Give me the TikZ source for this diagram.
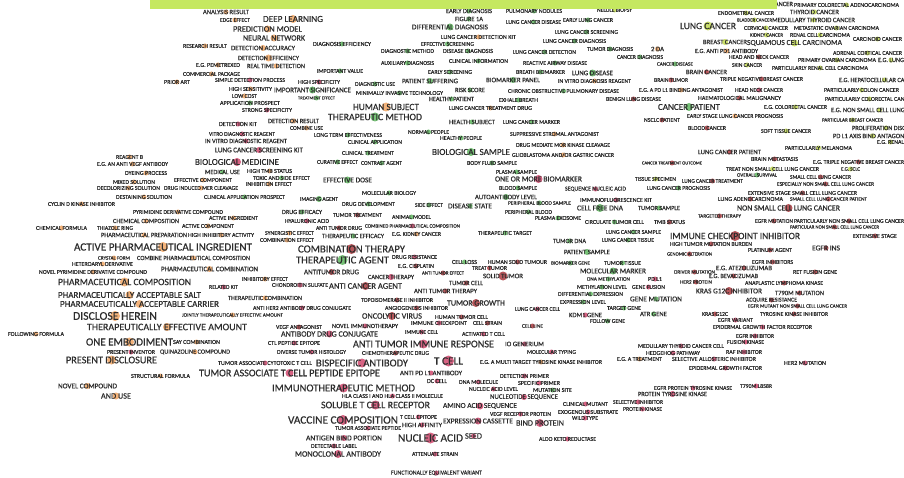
\documentclass[tikz,border=0pt]{standalone}
\usepackage{fontspec}
\setmainfont{Carlito}
\newfontfamily\kwfont{Carlito}[FakeBold=0.5]
\usepackage{graphicx}
\definecolor{co}{RGB}{240,160,90}
\definecolor{cg}{RGB}{85,178,85}
\definecolor{cr}{RGB}{205,60,100}
\definecolor{cd}{RGB}{165,45,50}
\definecolor{cy}{RGB}{190,215,70}
\definecolor{bar}{RGB}{197,232,96}
\definecolor{txt}{RGB}{45,45,45}
\newcounter{kwn}
\tikzset{
  kwdot/.style={circle,inner sep=0pt,draw=none,fill opacity=.8},
  kwlbl/.style={inner sep=0pt,text=txt,font=\kwfont\fontsize{10}{10}\selectfont}
}
% #1 left x, #2 right x, #3 y, #4 colour, #5 dot size, #6 text
\newcommand\kw[6]{\stepcounter{kwn}%
\node[kwdot,fill=#4,minimum size=#5pt] (d\arabic{kwn}) at ({(#1+#2)/2},#3) {};%
\node[kwlbl] (t\arabic{kwn}) at ({(#1+#2)/2},#3) {\resizebox{\dimexpr #2pt-#1pt\relax}{!}{#6}};}
\begin{document}
\begin{tikzpicture}[x=1pt,y=-1pt]
\clip (0,0) rectangle (904,478);
\fill[white] (0,0) rectangle (904,478);
% orange top-left
\kw{203}{249}{12}{co}{5}{ANALYSIS RESULT}
\kw{220}{250}{20}{co}{5}{EDGE EFFECT}
\kw{183}{227}{46}{co}{5}{RESEARCH RESULT}
\kw{196}{240}{65}{co}{5}{E.G. PEMETREXED}
\kw{183}{240}{74}{co}{5}{COMMERCIAL PACKAGE}
\kw{164}{190}{82}{co}{5}{PRIOR ART}
\kw{215}{285}{80}{cr}{5}{SIMPLE DETECTION PROCESS}
\kw{229}{272}{89}{co}{5}{HIGH SENSITIVITY}
\kw{232}{257}{96}{co}{5}{LOW COST}
\kw{220}{280}{103}{cg}{5}{APPLICATION PROSPECT}
\kw{242}{292}{110}{cr}{5}{STRONG SPECIFICITY}
\kw{219}{257}{124}{cr}{5}{DETECTION KIT}
\kw{209}{275}{134}{cr}{5}{VITRO DIAGNOSTIC REAGENT}
\kw{205}{287}{141}{cr}{5}{IN VITRO DIAGNOSTIC REAGENT}
\kw{215}{303}{150}{cr}{6}{LUNG CANCER SCREENING KIT}
\kw{116}{143}{157}{co}{5}{REAGENT B}
\kw{263}{323}{19}{co}{8}{DEEP LEARNING}
\kw{233}{302}{29}{co}{7}{PREDICTION MODEL}
\kw{243}{305}{38}{co}{7}{NEURAL NETWORK}
\kw{231}{295}{48}{co}{6}{DETECTION ACCURACY}
\kw{238}{299}{58}{co}{7}{DETECTION EFFICIENCY}
\kw{247}{305}{66}{co}{5}{REAL TIME DETECTION}
% green diagnosis
\kw{313}{371}{44}{cg}{5}{DIAGNOSIS EFFICIENCY}
\kw{317}{363}{71}{cg}{5}{IMPORTANT VALUE}
\kw{298}{340}{82}{cr}{5}{HIGH SPECIFICITY}
\kw{274}{351}{90}{cg}{7}{IMPORTANT SIGNIFICANCE}
\kw{298}{335}{98}{cg}{5}{TREATMENT EFFECT}
\kw{355}{395}{84}{cg}{5}{DIAGNOSTIC USE}
\kw{356}{443}{93}{cg}{5}{MINIMALLY INVASIVE TECHNOLOGY}
\kw{353}{419}{107}{co}{9}{HUMAN SUBJECT}
\kw{328}{422}{117}{cg}{9}{THERAPEUTIC METHOD}
\kw{268}{319}{121}{co}{5}{DETECTION RESULT}
\kw{290}{323}{128}{co}{5}{COMBINE USE}
\kw{314}{382}{135}{cg}{5}{LONG TERM EFFECTIVENESS}
\kw{348}{402}{142}{cg}{5}{CLINICAL APPLICATION}
\kw{342}{394}{153}{cg}{5}{CLINICAL TREATMENT}
\kw{408}{449}{132}{cg}{5}{NORMAL PEOPLE}
\kw{402}{458}{81}{cg}{6}{PATIENT SUFFERING}
\kw{412}{488}{27}{cg}{7}{DIFFERENTIAL DIAGNOSIS}
\kw{421}{474}{44}{cg}{5}{EFFECTIVE SCREENING}
\kw{381}{434}{51}{cg}{5}{DIAGNOSTIC METHOD}
\kw{443}{493}{51}{cg}{5}{DISEASE DIAGNOSIS}
\kw{381}{434}{63}{cg}{5}{AUXILIARY DIAGNOSIS}
\kw{449}{508}{61}{cg}{5}{CLINICAL INFORMATION}
\kw{428}{472}{72}{cg}{5}{EARLY SCREENING}
\kw{429}{474}{99}{cg}{5}{HEALTHY PATIENT}
\kw{455}{485}{90}{cg}{5}{RISK SCORE}
\kw{449}{532}{108}{co}{5}{LUNG CANCER TREATMENT DRUG}
\kw{449}{495}{122}{cg}{5}{HEALTH SUBJECT}
\kw{440}{482}{138}{cg}{5}{HEALTHY PEOPLE}
\kw{432}{510}{152}{cg}{8}{BIOLOGICAL SAMPLE}
\kw{446}{492}{11}{cg}{5}{EARLY DIAGNOSIS}
\kw{506}{562}{11}{cg}{5}{PULMONARY NODULES}
\kw{597}{632}{10}{cy}{5}{NEEDLE BIOPSY}
\kw{455}{483}{19}{cg}{5}{FIGURE 1A}
\kw{506}{561}{22}{cg}{5}{LUNG CANCER DISEASE}
\kw{563}{613}{20}{cg}{5}{EARLY LUNG CANCER}
\kw{441}{516}{37}{co}{5}{LUNG CANCER DETECTION KIT}
\kw{555}{618}{32}{cg}{5}{LUNG CANCER SCREENING}
\kw{543}{606}{41}{cg}{5}{LUNG CANCER DIAGNOSIS}
\kw{513}{576}{52}{cg}{5}{LUNG CANCER DETECTION}
\kw{587}{633}{49}{cg}{5}{TUMOR DIAGNOSIS}
\kw{651}{664}{49}{co}{5}{2 DA}
\kw{617}{663}{57}{cg}{5}{CANCER DIAGNOSIS}
\kw{523}{587}{63}{cg}{5}{REACTIVE AIRWAY DISEASE}
\kw{516}{565}{72}{cg}{5}{BREATH BIOMARKER}
\kw{572}{613}{73}{cg}{7}{LUNG DISEASE}
\kw{486}{540}{80}{cg}{6}{BIOMARKER PANEL}
\kw{558}{631}{81}{co}{5}{IN VITRO DIAGNOSIS REAGENT}
\kw{508}{619}{91}{cg}{5}{CHRONIC OBSTRUCTIVE PULMONARY DISEASE}
\kw{499}{538}{100}{cg}{5}{EXHALE BREATH}
\kw{606}{661}{99}{cd}{5}{BENIGN LUNG DISEASE}
\kw{503}{560}{122}{cg}{5}{LUNG CANCER MARKER}
\kw{510}{599}{134}{co}{5}{SUPPRESSIVE STROMAL ANTAGONIST}
\kw{516}{610}{145}{co}{5}{DRUG MEDIATE MOR KINASE CLEAVAGE}
\kw{512}{614}{155}{co}{5}{GLIOBLASTOMA AND/OR GASTRIC CANCER}
\kw{654}{688}{80}{cd}{5}{BRAIN TUMOR}
\kw{639}{723}{90}{co}{5}{E.G. A PD L1 BINDING ANTAGONIST}
\kw{644}{680}{120}{cd}{5}{NSCLC PATIENT}
\kw{658}{720}{107}{cg}{8}{CANCER PATIENT}
\kw{657}{693}{64}{cg}{5}{CANCER DISEASE}
% cancers top right
\kw{794}{899}{5}{cy}{5}{PRIMARY COLORECTAL ADENOCARCINOMA}
\kw{755}{793}{4}{cy}{5}{LIVER CANCER}
\kw{790}{839}{12}{cy}{5}{THYROID CANCER}
\kw{718}{774}{13}{cy}{5}{ENDOMETRIAL CANCER}
\kw{680}{736}{26}{cy}{9}{LUNG CANCER}
\kw{737}{772}{20}{cy}{5}{BLADDER CANCER}
\kw{772}{855}{20}{cy}{5}{MEDULLARY THYROID CANCER}
\kw{744}{788}{28}{cy}{5}{CERVICAL CANCER}
\kw{794}{879}{28}{cy}{5}{METASTATIC OVARIAN CARCINOMA}
\kw{750}{783}{35}{cy}{5}{KIDNEY CANCER}
\kw{790}{850}{35}{cy}{5}{RENAL CELL CARCINOMA}
\kw{853}{902}{39}{cy}{5}{CARCINOID CANCER}
\kw{703}{747}{42}{cy}{6}{BREAST CANCER}
\kw{747}{842}{43}{cy}{7}{SQUAMOUS CELL CARCINOMA}
\kw{695}{758}{51}{co}{5}{E.G. ANTI PD1 ANTIBODY}
\kw{729}{789}{57}{cd}{5}{HEAD AND NECK CANCER}
\kw{833}{902}{53}{cy}{5}{ADRENAL CORTICAL CANCER}
\kw{732}{762}{65}{cy}{5}{SKIN CANCER}
\kw{798}{876}{60}{cy}{5}{PRIMARY OVARIAN CARCINOMA}
\kw{878}{904}{60}{cy}{5}{E.G. LUNG}
\kw{772}{868}{68}{cy}{5}{PARTICULARLY RENAL CELL CARCINOMA}
\kw{686}{727}{72}{cd}{5}{BRAIN CANCER}
\kw{720}{803}{79}{cd}{5}{TRIPLE NEGATIVE BREAST CANCER}
\kw{839}{930}{80}{cy}{5}{E.G. HEPATOCELLULAR CARCINOMA}
\kw{735}{783}{90}{cr}{5}{HEAD NECK CANCER}
\kw{824}{899}{90}{cy}{5}{PARTICULARLY COLON CANCER}
\kw{698}{781}{98}{cd}{5}{HAEMATOLOGICAL MALIGNANCY}
\kw{825}{914}{99}{cy}{5}{PARTICULARLY COLORECTAL CANCER}
\kw{764}{827}{107}{cy}{5}{E.G. COLORECTAL CANCER}
\kw{831}{928}{110}{cy}{5}{E.G. NON SMALL CELL LUNG CANCER}
\kw{687}{783}{116}{co}{5}{EARLY STAGE LUNG CANCER PROGNOSIS}
\kw{822}{883}{120}{cy}{5}{PARTICULAR BREAST CANCER}
\kw{688}{726}{128}{cd}{5}{BLOOD CANCER}
\kw{761}{811}{131}{cy}{5}{SOFT TISSUE CANCER}
\kw{852}{920}{128}{cy}{5}{PROLIFERATION DISORDER}
\kw{833}{912}{136}{cy}{5}{PD L1 AXIS BIND ANTAGONIST}
\kw{877}{904}{142}{cy}{5}{E.G. RENAL}
\kw{785}{852}{148}{cy}{5}{PARTICULARLY MELANOMA}
\kw{698}{761}{152}{cd}{5}{LUNG CANCER PATIENT}
\kw{751}{798}{159}{cd}{5}{BRAIN METASTASIS}
% orange left cluster
\kw{97}{168}{164}{co}{5}{E.G. AN ANTI VEGF ANTIBODY}
\kw{125}{167}{173}{co}{5}{DYEING PROCESS}
\kw{113}{155}{182}{co}{5}{MIXED SOLUTION}
\kw{97}{160}{188}{co}{5}{DECOLORIZING SOLUTION}
\kw{116}{172}{197}{co}{5}{DESTAINING SOLUTION}
\kw{48}{115}{204}{co}{5}{CYCLIN D KINASE INHIBITOR}
\kw{133}{223}{212}{co}{5}{PYRIMIDINE DERIVATIVE COMPOUND}
\kw{113}{179}{221}{co}{5}{CHEMICAL COMPOSITION}
\kw{36}{87}{228}{co}{5}{CHEMICAL FORMULA}
\kw{97}{133}{228}{co}{5}{THIAZOLE RING}
\kw{182}{234}{226}{co}{5}{ACTIVE COMPONENT}
\kw{209}{258}{218}{co}{5}{ACTIVE INGREDIENT}
\kw{101}{187}{235}{co}{5}{PHARMACEUTICAL PREPARATION}
\kw{188}{254}{235}{co}{5}{HIGH INHIBITORY ACTIVITY}
\kw{74}{252}{247}{co}{10}{ACTIVE PHARMACEUTICAL INGREDIENT}
\kw{98}{130}{258}{co}{5}{CRYSTAL FORM}
\kw{137}{250}{258}{co}{5}{COMBINE PHARMACEUTICAL COMPOSITION}
\kw{72}{133}{264}{co}{5}{HETEROARYL DERIVATIVE}
\kw{39}{147}{272}{co}{5}{NOVEL PYRIMIDINE DERIVATIVE COMPOUND}
\kw{161}{258}{269}{co}{6}{PHARMACEUTICAL COMBINATION}
\kw{58}{191}{282}{co}{9}{PHARMACEUTICAL COMPOSITION}
\kw{209}{238}{287}{cr}{5}{RELATED KIT}
\kw{58}{201}{295}{co}{8}{PHARMACEUTICALLY ACCEPTABLE SALT}
\kw{60}{219}{304}{co}{8}{PHARMACEUTICALLY ACCEPTABLE CARRIER}
\kw{73}{157}{316}{co}{10}{DISCLOSE HEREIN}
\kw{182}{283}{315}{co}{5}{JOINTLY THERAPEUTICALLY EFFECTIVE AMOUNT}
% centre
\kw{195}{279}{162}{cr}{8}{BIOLOGICAL MEDICINE}
\kw{205}{240}{172}{cg}{5}{MEDICAL USE}
\kw{247}{292}{171}{co}{5}{HIGH TMB STATUS}
\kw{174}{232}{180}{co}{5}{EFFECTIVE COMPONENT}
\kw{253}{310}{178}{cg}{5}{TOXIC AND SIDE EFFECT}
\kw{164}{238}{188}{co}{5}{DRUG INDUCED MER CLEAVAGE}
\kw{246}{292}{184}{co}{5}{INHIBITION EFFECT}
\kw{204}{285}{197}{cg}{5}{CLINICAL APPLICATION PROSPECT}
\kw{317}{358}{162}{cg}{5}{CURATIVE EFFECT}
\kw{361}{402}{163}{cg}{5}{CONTRAST AGENT}
\kw{323}{372}{180}{cg}{7}{EFFECTIVE DOSE}
\kw{362}{416}{193}{cg}{5}{MOLECULAR BIOLOGY}
\kw{300}{338}{199}{cg}{6}{IMAGING AGENT}
\kw{342}{395}{204}{cg}{5}{DRUG DEVELOPMENT}
\kw{415}{443}{205}{cg}{5}{SIDE EFFECT}
\kw{448}{492}{206}{cg}{5}{DISEASE STATE}
\kw{282}{322}{212}{cg}{5}{DRUG EFFICACY}
\kw{285}{329}{221}{cr}{5}{HYALURONIC ACID}
\kw{333}{382}{215}{cd}{5}{TUMOR TREATMENT}
\kw{392}{431}{217}{cg}{5}{ANIMAL MODEL}
\kw{365}{460}{226}{cr}{5}{COMBINED PHARMACEUTICAL COMPOSITION}
\kw{265}{314}{233}{co}{5}{SYNERGISTIC EFFECT}
\kw{260}{314}{240}{co}{5}{COMBINATION EFFECT}
\kw{316}{362}{228}{cd}{5}{ANTI TUMOR DRUG}
\kw{322}{384}{236}{cg}{5}{THERAPEUTIC EFFICACY}
\kw{392}{441}{234}{co}{5}{E.G. KIDNEY CANCER}
\kw{298}{405}{249}{cd}{10}{COMBINATION THERAPY}
\kw{296}{389}{260}{cg}{10}{THERAPEUTIC AGENT}
\kw{392}{437}{257}{cr}{5}{DRUG RESISTANCE}
\kw{398}{434}{266}{cd}{5}{E.G. CISPLATIN}
\kw{304}{359}{272}{cd}{6}{ANTITUMOR DRUG}
\kw{368}{414}{277}{cr}{6}{CANCER THERAPY}
\kw{422}{464}{273}{cd}{5}{ANTI TUMOR EFFECT}
\kw{242}{288}{279}{co}{5}{INHIBITORY EFFECT}
\kw{272}{328}{285}{cr}{5}{CHONDROITIN SULFATE}
\kw{329}{402}{286}{cd}{8}{ANTI CANCER AGENT}
\kw{449}{483}{283}{cd}{5}{TUMOR CELL}
\kw{414}{477}{291}{cd}{5}{ANTI TUMOR THERAPY}
\kw{228}{302}{298}{co}{5}{THERAPEUTIC COMBINATION}
\kw{361}{433}{300}{cd}{5}{TOPOISOMERASE II INHIBITOR}
\kw{447}{505}{303}{cd}{8}{TUMOR GROWTH}
\kw{253}{351}{308}{cr}{5}{ANTI HER2 ANTIBODY DRUG CONJUGATE}
\kw{385}{448}{308}{cd}{5}{ANGIOGENESIS INHIBITOR}
\kw{87}{247}{327}{co}{8}{THERAPEUTICALLY EFFECTIVE AMOUNT}
\kw{362}{422}{316}{cd}{8}{ONCOLYTIC VIRUS}
\kw{435}{488}{317}{cd}{5}{HUMAN TUMOR CELL}
% samples / markers
\kw{467}{517}{163}{cg}{5}{BODY FLUID SAMPLE}
\kw{642}{702}{163}{cd}{5}{CANCER TREATMENT OUTCOME}
\kw{496}{537}{172}{cg}{5}{PLASMA SAMPLE}
\kw{495}{582}{179}{cr}{8}{ONE OR MORE BIOMARKER}
\kw{635}{676}{179}{cy}{5}{TISSUE SPECIMEN}
\kw{499}{537}{188}{cg}{5}{BLOOD SAMPLE}
\kw{565}{626}{189}{cr}{5}{SEQUENCE NUCLEIC ACID}
\kw{647}{710}{188}{cg}{5}{LUNG CANCER PROGNOSIS}
\kw{682}{743}{181}{cd}{5}{LUNG CANCER TREATMENT}
\kw{475}{537}{197}{cg}{6}{AUTOANTIBODY LEVEL}
\kw{580}{652}{200}{cr}{5}{IMMUNOFLUORESCENCE KIT}
\kw{508}{571}{203}{cg}{5}{PERIPHERAL BLOOD SAMPLE}
\kw{577}{623}{208}{cg}{8}{CELL FREE DNA}
\kw{638}{680}{208}{cg}{5}{TUMOR SAMPLE}
\kw{505}{552}{212}{cg}{5}{PERIPHERAL BLOOD}
\kw{535}{581}{218}{cg}{5}{PLASMA EXOSOME}
\kw{585}{644}{222}{cg}{5}{CIRCULATE TUMOR CELL}
\kw{654}{685}{222}{cd}{5}{TMB STATUS}
\kw{478}{532}{233}{cg}{5}{THERAPEUTIC TARGET}
\kw{606}{661}{232}{cg}{5}{LUNG CANCER SAMPLE}
\kw{602}{654}{240}{cg}{5}{LUNG CANCER TISSUE}
\kw{553}{586}{241}{cg}{5}{TUMOR DNA}
\kw{564}{610}{252}{cg}{6}{PATIENT SAMPLE}
\kw{452}{477}{262}{cg}{5}{CELL LOSS}
\kw{488}{547}{262}{cd}{5}{HUMAN SOLID TUMOUR}
\kw{551}{590}{263}{cg}{5}{BIOMARKER GENE}
\kw{604}{641}{263}{cg}{5}{TUMOR TISSUE}
\kw{472}{507}{268}{cd}{5}{TREAT TUMOR}
\kw{483}{523}{276}{cd}{9}{SOLID TUMOR}
\kw{580}{646}{271}{cg}{7}{MOLECULAR MARKER}
\kw{587}{630}{279}{cg}{5}{DNA METHYLATION}
\kw{648}{662}{279}{cr}{5}{PD L1}
\kw{577}{627}{287}{cg}{5}{METHYLATION LEVEL}
\kw{632}{665}{287}{cr}{5}{GENE FUSION}
\kw{558}{623}{294}{cg}{5}{DIFFERENTIAL EXPRESSION}
\kw{630}{682}{299}{cg}{5}{GENE MUTATION}
\kw{560}{606}{302}{cg}{5}{EXPRESSION LEVEL}
\kw{515}{560}{309}{cr}{5}{LUNG CANCER CELL}
\kw{607}{641}{308}{cg}{5}{TARGET GENE}
\kw{569}{602}{315}{cr}{5}{KDM1 GENE}
\kw{640}{667}{314}{cg}{5}{ATR GENE}
\kw{590}{625}{321}{cg}{5}{FOLLOW GENE}
% lung cancer right
\kw{813}{904}{162}{cd}{5}{E.G. TRIPLE NEGATIVE BREAST CANCER}
\kw{726}{819}{169}{cy}{5}{TREAT NON SMALL CELL LUNG CANCER}
\kw{841}{860}{169}{cy}{5}{E.G. SCLC}
\kw{737}{777}{175}{cg}{5}{OVERALL SURVIVAL}
\kw{790}{851}{177}{cd}{5}{SMALL CELL LUNG CANCER}
\kw{777}{874}{184}{cd}{5}{ESPECIALLY NON SMALL CELL LUNG CANCER}
\kw{748}{857}{193}{cd}{5}{EXTENSIVE STAGE SMALL CELL LUNG CANCER}
\kw{718}{783}{199}{cd}{5}{LUNG ADENOCARCINOMA}
\kw{790}{867}{199}{cd}{5}{SMALL CELL LUNG CANCER PATIENT}
\kw{737}{840}{208}{cd}{8}{NON SMALL CELL LUNG CANCER}
\kw{698}{741}{216}{cd}{5}{TARGETED THERAPY}
\kw{755}{793}{221}{cd}{5}{EGFR MUTATION}
\kw{794}{904}{221}{cd}{5}{PARTICULARLY NON SMALL CELL LUNG CANCER}
\kw{790}{879}{227}{cd}{5}{PARTICULAR NON SMALL CELL LUNG CANCER}
\kw{670}{800}{236}{cd}{10}{IMMUNE CHECKPOINT INHIBITOR}
\kw{853}{897}{236}{cd}{5}{EXTENSIVE STAGE}
\kw{670}{752}{244}{cd}{5}{HIGH TUMOR MUTATION BURDEN}
\kw{748}{792}{250}{cd}{5}{PLATINUM AGENT}
\kw{812}{840}{248}{cd}{5}{EGFR INS}
\kw{667}{712}{254}{cd}{5}{GENOMIC ALTERATION}
\kw{752}{793}{262}{cd}{5}{EGFR INHIBITORS}
\kw{674}{715}{272}{cd}{5}{DRIVER MUTATION}
\kw{716}{772}{268}{cd}{5}{E.G. ATEZOLIZUMAB}
\kw{793}{837}{272}{cd}{5}{RET FUSION GENE}
\kw{709}{758}{276}{cd}{5}{E.G. BEVACIZUMAB}
\kw{680}{712}{282}{cd}{5}{HER2 PROTEIN}
\kw{745}{823}{283}{cd}{5}{ANAPLASTIC LYMPHOMA KINASE}
\kw{696}{762}{291}{cd}{8}{KRAS G12C INHIBITOR}
\kw{775}{824}{293}{cd}{5}{T790M MUTATION}
\kw{746}{797}{300}{cd}{5}{ACQUIRE RESISTANCE}
\kw{748}{847}{306}{cd}{5}{EGFR MUTANT NON SMALL CELL LUNG CANCER}
\kw{702}{728}{314}{cd}{5}{KRAS G12C}
\kw{760}{828}{314}{cd}{5}{TYROSINE KINASE INHIBITOR}
% bottom left
\kw{8}{64}{334}{co}{5}{FOLLOWING FORMULA}
\kw{86}{173}{342}{co}{9}{ONE EMBODIMENT}
\kw{173}{220}{342}{co}{5}{SAY COMBINATION}
\kw{107}{155}{352}{cr}{5}{PRESENT INVENTOR}
\kw{160}{230}{352}{co}{5}{QUINAZOLINE COMPOUND}
\kw{66}{157}{360}{co}{9}{PRESENT DISCLOSURE}
\kw{131}{190}{376}{co}{5}{STRUCTURAL FORMULA}
\kw{58}{117}{386}{co}{6}{NOVEL COMPOUND}
\kw{101}{131}{396}{co}{7}{AND USE}
\kw{218}{312}{363}{cr}{5}{TUMOR ASSOCIATE CYTOTOXIC T CELL}
\kw{199}{380}{373}{cr}{8}{TUMOR ASSOCIATE T CELL PEPTIDE EPITOPE}
% immuno cluster
\kw{276}{322}{327}{cd}{5}{VEGF ANTAGONIST}
\kw{332}{398}{326}{cr}{5}{NOVEL IMMUNOTHERAPY}
\kw{281}{378}{334}{cr}{7}{ANTIBODY DRUG CONJUGATE}
\kw{411}{467}{323}{cr}{5}{IMMUNE CHECKPOINT}
\kw{473}{502}{323}{cd}{5}{CELL STRAIN}
\kw{522}{543}{326}{cd}{5}{CELL LINE}
\kw{405}{438}{332}{cr}{5}{IMMUNE CELL}
\kw{462}{505}{334}{cr}{5}{ACTIVATED T CELL}
\kw{268}{320}{343}{cr}{5}{CTL PEPTIDE EPITOPE}
\kw{353}{494}{344}{cr}{9}{ANTI TUMOR IMMUNE RESPONSE}
\kw{505}{544}{344}{cr}{5}{IO GENERIUM}
\kw{527}{576}{352}{cr}{5}{MOLECULAR TYPING}
\kw{277}{346}{352}{cr}{5}{DIVERSE TUMOR HISTOLOGY}
\kw{362}{429}{353}{cd}{5}{CHEMOTHERAPEUTIC DRUG}
\kw{316}{408}{363}{cr}{9}{BISPECIFIC ANTIBODY}
\kw{434}{463}{361}{cr}{11}{T CELL}
\kw{480}{602}{362}{co}{5}{E.G. A MULTI TARGET TYROSINE KINASE INHIBITOR}
\kw{617}{662}{359}{co}{5}{E.G. A TREATMENT}
\kw{638}{724}{346}{cr}{5}{MEDULLARY THYROID CANCER CELL}
\kw{646}{700}{353}{cr}{5}{HEDGEHOG PATHWAY}
\kw{672}{756}{359}{cr}{5}{SELECTIVE ALLOSTERIC INHIBITOR}
\kw{400}{462}{373}{cr}{5}{ANTI PD L1 ANTIBODY}
\kw{427}{447}{381}{cr}{5}{DC CELL}
\kw{500}{549}{376}{cr}{5}{DETECTION PRIMER}
\kw{459}{498}{382}{cr}{5}{DNA MOLECULE}
\kw{518}{560}{383}{cr}{5}{SPECIFIC PRIMER}
\kw{469}{518}{389}{cr}{5}{NUCLEIC ACID LEVEL}
\kw{533}{572}{390}{cg}{5}{MUTATION SITE}
\kw{490}{558}{397}{cr}{6}{NUCLEOTIDE SEQUENCE}
\kw{272}{415}{388}{cr}{9}{IMMUNOTHERAPEUTIC METHOD}
\kw{342}{443}{396}{cr}{5}{HLA CLASS I AND HLA CLASS II MOLECULE}
\kw{321}{430}{405}{cr}{9}{SOLUBLE T CELL RECEPTOR}
\kw{443}{517}{406}{cr}{7}{AMINO ACID SEQUENCE}
\kw{288}{398}{420}{cr}{10}{VACCINE COMPOSITION}
\kw{400}{437}{417}{cr}{5}{T CELL EPITOPE}
\kw{402}{442}{425}{cr}{5}{HIGH AFFINITY}
\kw{443}{513}{421}{cr}{7}{EXPRESSION CASSETTE}
\kw{335}{401}{428}{cr}{5}{TUMOR ASSOCIATE PEPTIDE}
\kw{490}{551}{414}{cr}{5}{VEGF RECEPTOR PROTEIN}
\kw{516}{564}{423}{cr}{8}{BIND PROTEIN}
\kw{563}{608}{404}{cr}{5}{CLINICAL MUTANT}
\kw{558}{618}{412}{cr}{5}{EXOGENOUS SUBSTRATE}
\kw{572}{598}{418}{cr}{5}{WILD TYPE}
\kw{613}{663}{402}{cr}{5}{SELECTIVE INHIBITOR}
\kw{623}{662}{409}{cr}{5}{PROTEIN KINASE}
\kw{654}{732}{388}{cr}{5}{EGFR PROTEIN TYROSINE KINASE}
\kw{638}{707}{394}{cr}{6}{PROTEIN TYROSINE KINASE}
\kw{398}{463}{438}{cr}{11}{NUCLEIC ACID}
\kw{465}{482}{436}{cr}{5}{SEED}
\kw{539}{596}{439}{cr}{5}{ALDO KETO REDUCTASE}
\kw{306}{382}{438}{cr}{6}{ANTIGEN BIND PORTION}
\kw{311}{357}{446}{cr}{5}{DETECTABLE LABEL}
\kw{295}{381}{454}{cr}{8}{MONOCLONAL ANTIBODY}
\kw{412}{458}{454}{cr}{5}{ATTENUATE STRAIN}
\kw{391}{482}{473}{cr}{5}{FUNCTIONALLY EQUIVALENT VARIANT}
% EGFR right
\kw{718}{753}{320}{cr}{5}{EGFR VARIANT}
\kw{713}{812}{327}{cr}{5}{EPIDERMAL GROWTH FACTOR RECEPTOR}
\kw{736}{774}{336}{cr}{5}{EGFR INHIBITOR}
\kw{727}{764}{342}{cr}{5}{FUSION KINASE}
\kw{726}{762}{352}{cr}{5}{RAF INHIBITOR}
\kw{689}{762}{368}{cr}{5}{EPIDERMAL GROWTH FACTOR}
\kw{784}{826}{363}{cr}{5}{HER2 MUTATION}
\kw{740}{772}{386}{cr}{5}{T790M L858R}
% top bar
\fill[bar] (150,0) rectangle (777,9);
\end{tikzpicture}
\end{document}
